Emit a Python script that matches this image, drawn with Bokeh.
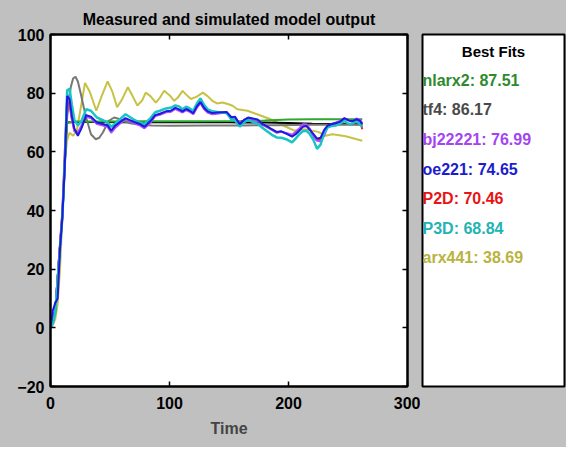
from bokeh.plotting import figure
from bokeh.layouts import row
from bokeh.models import Range1d, FixedTicker, LinearAxis
from bokeh.embed import file_html
from bokeh.resources import INLINE
from bokeh.core.properties import value

# ---------------- data ----------------
x_ticks = [0, 100, 200, 300]
y_ticks = [-20, 0, 20, 40, 60, 80, 100]

t_measured = [0, 2, 4, 6, 8, 10, 12, 13, 14, 20, 40, 60, 80, 100, 120, 140, 160, 180, 200, 220, 240, 262]
y_measured = [0, 2, 6, 17, 28, 38, 55, 65, 70, 70.2, 70.2, 70.1, 70.1, 70.2, 70.1, 70.2, 70.0, 70.0, 69.8, 69.6, 69.5, 69.4]

t_nlarx2 = [0, 2, 4, 6, 8, 10, 12, 14, 20, 40, 80, 120, 160, 180, 200, 220, 240, 262]
y_nlarx2 = [0, 2, 6, 17, 28, 39, 57, 70, 70.3, 70.3, 70.4, 70.4, 70.5, 70.7, 71.0, 71.1, 71.1, 71.1]

t_tf4 = [0, 2, 4, 6, 8, 10, 12, 14, 17, 19, 21, 23, 25.5, 28, 30, 34, 38, 41, 44, 49, 53.5,
         57, 60.5, 67, 75, 85, 100, 130, 160, 190, 220, 262]
y_tf4 = [0, 2, 6, 17, 28, 38, 56, 72, 82, 85, 85.6, 84, 79.7, 75, 71.7, 66, 64.3, 64.8, 66.6, 70.6, 71.7,
         71.3, 70.6, 69.7, 69.2, 69.0, 68.9, 69.0, 69.0, 69.1, 69.2, 69.2]

t_arx441 = [0, 2, 4, 6, 8, 10, 12, 14, 16, 19, 22, 25, 29, 33, 38.5, 43, 48, 52, 56, 60,
            65, 69, 73, 77, 80, 84, 88.5, 92, 95.5, 100, 104, 107, 111, 114, 118, 123, 128, 132, 136, 140,
            144.5, 149, 153, 157, 165.5, 177, 185, 196, 205, 210, 215, 225, 231, 237, 248, 262]
y_arx441 = [0, 1, 3, 8, 20, 38, 57, 64, 66.5, 65.5, 67, 74, 83.5, 80.5, 74, 79, 84, 80.5, 75.2, 77.8,
            82, 79, 75.8, 77.5, 80.2, 79, 76.8, 78.5, 80.8, 79.3, 77.4, 78.5, 80.8, 79.5, 78, 78.8, 80.2, 79, 77.4, 76.5,
            76.8, 76.3, 75.7, 74.5, 74, 72.3, 71.1, 68.9, 67.2, 67.7, 67.6, 66.8, 65.5, 66, 65.3, 63.8]

t_fit = [0, 2, 4, 6, 8, 10, 12, 14, 16, 18,
         20, 23, 26, 30, 34, 39, 44, 48, 51, 54,
         58, 63, 70, 75, 79, 84, 88, 92, 97, 101,
         105, 108, 111, 114, 117, 120, 123, 126, 129, 132,
         136, 140, 144, 148, 152, 155, 159, 163, 166, 170,
         174, 178, 182, 186, 190, 194, 198, 203, 206, 209,
         212, 215, 218, 221, 224, 227, 230, 233, 236, 240,
         243, 247, 251, 254, 257, 260, 262]

y_oe221 = [0, 6, 8.5, 10, 27, 38, 55, 79, 78, 72,
           68, 65.5, 68, 72.5, 72, 70, 69.5, 69, 67.2, 68.8,
           70, 71.5, 70.2, 69.5, 68.5, 70.5, 72.5, 73, 73.8, 74,
           75, 74.5, 73.8, 74.6, 74, 73.2, 75.5, 77, 75, 73.8,
           73.2, 73.4, 73.5, 73.6, 71.8, 72, 69.4, 71, 71.7, 71.4,
           71, 69.5, 68.7, 67.7, 66.8, 67, 66.2, 65.2, 66, 67.2,
           68.5, 68.8, 67.5, 66, 64.5, 64.8, 67.5, 69, 69.4, 69.8,
           70.2, 71.5, 70.6, 70.5, 71.1, 70.6, 69.4]

y_bj22221 = [0, 2, 6, 17, 28, 39, 57, 80, 77, 71,
             67, 66.5, 69, 72, 71.5, 69.5, 69, 68.5, 66.5, 68,
             69.5, 71, 69.8, 69, 68, 70, 72.2, 72.6, 73.5, 73.6,
             74.6, 74, 73.4, 74.2, 73.6, 72.8, 75, 76.6, 74.6, 73.4,
             72.8, 73, 73.2, 73.2, 71.4, 71.6, 69.8, 70.8, 71.4, 71,
             70.6, 69.3, 68.4, 67.5, 66.5, 66.8, 66.4, 65.8, 66.8, 68,
             69.4, 69.4, 67.8, 65, 63.8, 63.5, 65.5, 68.5, 69.5, 70,
             70.5, 71.2, 70.8, 70.2, 71.4, 71, 69.8]

y_P3D = [0, 1.5, 5, 16, 27, 38, 56, 81, 81.5, 76,
         71, 69, 70.5, 74.5, 74, 71.7, 70.8, 70, 68.5, 69.5,
         71, 72.8, 71, 70, 69.5, 71.5, 73.5, 74, 74.8, 75,
         75.8, 75.5, 74.5, 75.4, 74.8, 74, 76.5, 78.2, 76, 74.5,
         73.8, 73.6, 73.4, 73.2, 71, 70.8, 68.6, 70.2, 70.8, 70.2,
         69.6, 68.2, 67, 65.8, 64.9, 64.8, 64.3, 63.2, 64.5, 66,
         67, 67.2, 66, 64, 61, 62.5, 66.5, 68.4, 68.8, 69,
         69.6, 70.5, 69.4, 69.8, 70.4, 69.6, 68.5]

y_P2D = [0, 2, 6, 17, 29, 40, 60, 78, 76, 71,
         67.5, 66.5, 68.5, 72, 71.6, 69.8, 69.2, 68.8, 67, 68.4,
         69.8, 71.2, 70, 69.2, 68.2, 70.2, 72.3, 72.8, 73.6, 73.8,
         74.8, 74.2, 73.6, 74.4, 73.8, 73, 75.2, 76.8, 74.8, 73.6,
         73, 73.2, 73.3, 73.4, 71.6, 71.8, 69.6, 70.9, 71.5, 71.2,
         70.8, 69.4, 68.5, 67.6, 66.6, 66.9, 66.3, 65.5, 66.4, 67.6,
         69, 69.1, 67.6, 65.5, 64, 64, 66.5, 68.7, 69.4, 69.9,
         70.3, 71.3, 70.7, 70.3, 71.2, 70.8, 67.7]

fit_names = ["nlarx2", "tf4", "bj22221", "oe221", "P2D", "P3D", "arx441"]
fit_values = [87.51, 86.17, 76.99, 74.65, 70.46, 68.84, 38.69]
fit_colors = ["#2f8a2f", "#4a4a4a", "#a445f0", "#1c1ccf", "#e81414", "#22b4b4", "#b9b340"]

# ---------------- styles ----------------
FONT = "Liberation Sans"
GRAY = "#c0c0c0"

p = figure(width=420, height=447, output_backend="svg", toolbar_location=None,
           x_range=Range1d(0, 300), y_range=Range1d(-20, 100),
           title="Measured and simulated model output",
           min_border_left=50, min_border_right=13, min_border_top=34, min_border_bottom=61)
p.border_fill_color = GRAY
p.background_fill_color = "white"
p.outline_line_color = "black"
p.outline_line_width = 2
p.grid.visible = False
p.title.align = "center"
p.title.text_font = FONT
p.title.text_font_size = "16px"
p.title.text_font_style = "bold"
p.title.text_color = "black"
p.title.standoff = 13

p.xaxis.axis_label = "Time"
p.xaxis.axis_label_text_font = FONT
p.xaxis.axis_label_text_font_size = "16px"
p.xaxis.axis_label_text_font_style = "bold"
p.xaxis.axis_label_standoff = 8

for ax, ticks, so in ((p.xaxis[0], x_ticks, 10), (p.yaxis[0], y_ticks, 6)):
    ax.ticker = FixedTicker(ticks=ticks)
    ax.major_label_text_font = FONT
    ax.major_label_text_font_size = "16px"
    ax.major_label_text_font_style = "bold"
    ax.major_label_text_color = "black"
    ax.major_label_standoff = so
    ax.axis_line_width = 2
    ax.major_tick_in = 5
    ax.major_tick_out = 0
    ax.minor_tick_line_color = None
    ax.major_tick_line_width = 1.5

for loc, ticks in (("right", y_ticks), ("above", x_ticks)):
    ax = LinearAxis(ticker=FixedTicker(ticks=ticks))
    ax.major_label_overrides = {t: "" for t in ticks}
    ax.major_label_text_font_size = "1px"
    ax.major_label_standoff = 0
    ax.major_tick_in = 5
    ax.major_tick_out = 0
    ax.minor_tick_line_color = None
    ax.axis_line_width = 2
    ax.major_tick_line_width = 1.5
    p.add_layout(ax, loc)

p.line(t_arx441, y_arx441, line_color="#c8c244", line_width=2)
p.line(t_measured, y_measured, line_color="black", line_width=2)
p.line(t_tf4, y_tf4, line_color="#777777", line_width=2)
p.line(t_nlarx2, y_nlarx2, line_color="#2ea82e", line_width=2)
p.line(t_fit, y_P2D, line_color="#ff1a1a", line_width=2)
p.line(t_fit, y_bj22221, line_color="#b050ff", line_width=2)
p.line(t_fit, y_P3D, line_color="#18c4c4", line_width=2.5)
p.line(t_fit, y_oe221, line_color="#1a1ae0", line_width=2)

# ---------------- legend panel ----------------
p2 = figure(width=146, height=447, output_backend="svg", toolbar_location=None,
            x_range=Range1d(0, 142), y_range=Range1d(355, 0),
            x_axis_type=None, y_axis_type=None,
            min_border_left=2, min_border_right=2, min_border_top=32, min_border_bottom=60)
p2.border_fill_color = GRAY
p2.background_fill_color = "white"
p2.outline_line_color = "black"
p2.outline_line_width = 2
p2.grid.visible = False

p2.text(x=[71], y=[17], text=["Best Fits"], text_align="center", text_baseline="middle",
        text_font=value(FONT), text_font_size="15px", text_font_style="bold", text_color="black")

labels = [f"{n}: {v:.2f}" for n, v in zip(fit_names, fit_values)]
ys = [46 + 29.9 * i for i in range(len(labels))]
p2.text(x=[0] * len(labels), y=ys, text=labels, text_color=fit_colors,
        text_align="left", text_baseline="middle",
        text_font=value(FONT), text_font_size="16px", text_font_style="bold")

layout = row(p, p2, spacing=0, styles={"background-color": GRAY})
open("out.html", "w").write(file_html(layout, INLINE))
